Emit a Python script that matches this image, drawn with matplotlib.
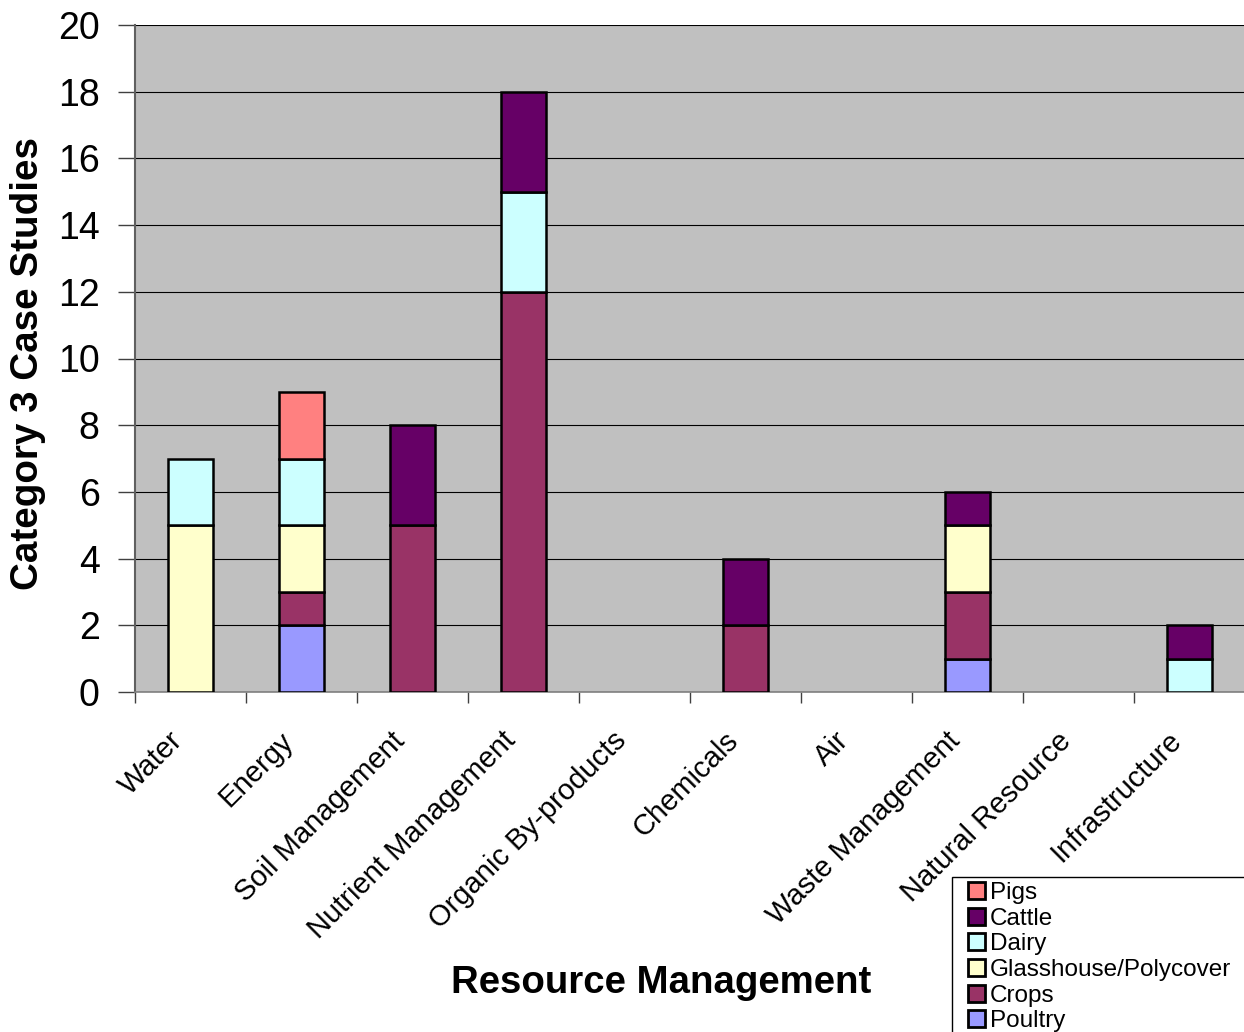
import numpy as np
import matplotlib
matplotlib.use("Agg")
import matplotlib.pyplot as plt
from matplotlib.patches import Rectangle
from matplotlib.transforms import ScaledTranslation

plt.rcParams['font.family'] = ['Liberation Sans', 'DejaVu Sans']

categories = ["Water", "Energy", "Soil Management", "Nutrient Management",
              "Organic By-products", "Chemicals", "Air", "Waste Management",
              "Natural Resource", "Infrastructure"]

# stacked from the bottom up
poultry     = [0, 2, 0, 0, 0, 0, 0, 1, 0, 0]
crops       = [0, 1, 5, 12, 0, 2, 0, 2, 0, 0]
glasshouse  = [5, 2, 0, 0, 0, 0, 0, 2, 0, 0]
dairy       = [2, 2, 0, 3, 0, 0, 0, 0, 0, 1]
cattle      = [0, 0, 3, 3, 0, 2, 0, 1, 0, 1]
pigs        = [0, 2, 0, 0, 0, 0, 0, 0, 0, 0]

series = [
    ("Poultry", poultry, "#9999FF"),
    ("Crops", crops, "#993366"),
    ("Glasshouse/Polycover", glasshouse, "#FFFFCC"),
    ("Dairy", dairy, "#CCFFFF"),
    ("Cattle", cattle, "#660066"),
    ("Pigs", pigs, "#FF8080"),
]

W, H = 1244, 1032
fig = plt.figure(figsize=(W / 100, H / 100), dpi=100)
ax = fig.add_axes([135 / W, 1 - 692 / H, 1110 / W, (692 - 25) / H])
ax.set_facecolor("#C0C0C0")

x = np.arange(len(categories))
bottom = np.zeros(len(categories))
handles = []
for name, vals, color in series:
    vals = np.array(vals, dtype=float)
    keep = vals > 0  # empty segments get no outline
    bars = ax.bar(x[keep], vals[keep], width=0.4, bottom=bottom[keep],
                  color=color, edgecolor="black", linewidth=1.8,
                  label=name, zorder=3)
    handles.append(bars)
    bottom += vals

ax.set_xlim(-0.5, len(categories) - 0.5)
ax.set_ylim(0, 20)
ax.set_yticks(np.arange(0, 21, 2))
ax.yaxis.grid(True, color="black", linewidth=0.8)
ax.set_axisbelow(True)

# category boundaries carry the tick marks, centres carry the labels
ax.set_xticks(np.arange(-0.5, len(categories), 1.0))
ax.set_xticklabels([])
ax.set_xticks(x, minor=True)
ax.set_xticklabels(categories, minor=True, rotation=45, ha="right",
                   va="center", rotation_mode="anchor", fontsize=21)
ax.tick_params(axis="x", which="minor", length=0, pad=32)
ax.tick_params(axis="x", which="major", length=8, width=1, color="#404040",
               direction="out")
ax.tick_params(axis="y", length=12, width=1, color="#404040",
               direction="out", labelsize=27, pad=13.5)
shift = ScaledTranslation(-0.12, 0, fig.dpi_scale_trans)
for lab in ax.get_xticklabels(minor=True):
    lab.set_transform(lab.get_transform() + shift)

for s in ("top", "right"):
    ax.spines[s].set_visible(False)
ax.spines["left"].set_color("#606060")
ax.spines["left"].set_linewidth(1.5)
ax.spines["bottom"].set_color("#808080")
ax.spines["bottom"].set_linewidth(1.2)

fig.text(661 / W, 1 - 983 / H, "Resource Management", ha="center",
         va="center", fontsize=27.6, fontweight="bold")
fig.text(28 / W, 1 - 363 / H, "Category 3 Case Studies", ha="center",
         va="center", rotation=90, fontsize=27.8, fontweight="bold")

# legend frame and entries
fig.add_artist(Rectangle((952 / W, -0.05), 0.3, 0.05 + (1 - 877 / H),
                         transform=fig.transFigure, facecolor="white",
                         edgecolor="black", linewidth=1.0, zorder=4))
leg = fig.legend(handles[::-1], [s[0] for s in series][::-1],
                 loc="upper left", bbox_to_anchor=(968 / W, 1 - 882 / H),
                 frameon=False, fontsize=17.5, borderpad=0, borderaxespad=0,
                 handlelength=0.7, handleheight=0.7, handletextpad=0.2,
                 labelspacing=0.15)
for h in leg.legend_handles:
    h.set_linewidth(2.0)
leg.set_zorder(5)

fig.savefig("out.png", dpi=100)
